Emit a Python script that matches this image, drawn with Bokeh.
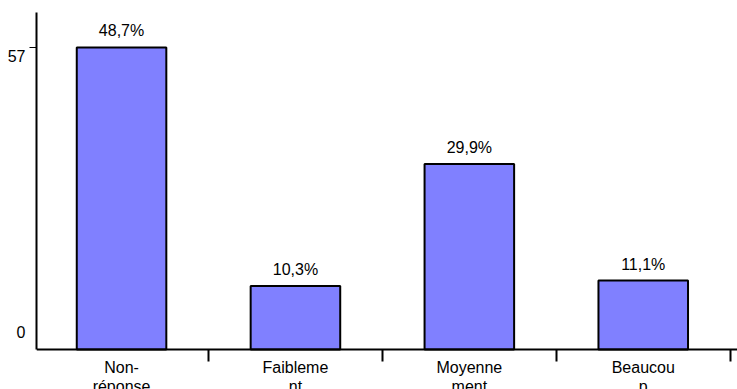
from bokeh.plotting import figure
from bokeh.models import Range1d, FixedTicker, ColumnDataSource
from bokeh.embed import file_html
from bokeh.resources import INLINE

# ---- data ----
categories = ["Non-réponse", "Faiblement", "Moyennement", "Beaucoup"]
tick_labels = ["Non-\nréponse", "Faibleme\nnt", "Moyenne\nment", "Beaucou\np"]
counts = [57, 12, 35, 13]
pct_labels = ["48,7%", "10,3%", "29,9%", "11,1%"]
y_ticks = [0, 57]

FONT = "Liberation Sans"
FS = "16px"

# ---- layout / style ----
Y_TOP = 63.6
Y_BOTTOM = -7.55
PX_PER_UNIT = 377 / (Y_TOP - Y_BOTTOM)
y_label_shift_px = [17, -9]   # reference draws the y labels shifted from their ticks

n = len(categories)
centers = [i + 0.5 for i in range(n)]
boundaries = [i + 1 for i in range(n)]
src = ColumnDataSource(dict(x=centers, top=counts, pct=pct_labels, cat=categories))

p = figure(width=737, height=389, output_backend="svg", toolbar_location=None,
           x_range=Range1d(0.011, 4.042), y_range=Range1d(Y_BOTTOM, Y_TOP),
           min_border_left=36, min_border_right=0, min_border_top=12, min_border_bottom=0)
p.outline_line_color = None
p.xgrid.visible = False
p.ygrid.visible = False
p.background_fill_color = "white"
p.border_fill_color = "white"

p.vbar(x="x", top="top", bottom=0, width=0.515, source=src,
       fill_color="#8080FF", line_color="black", line_width=2)

p.text(x="x", y="top", text="pct", source=src, text_align="center",
       text_baseline="bottom", y_offset=-8, text_font_size=FS,
       text_font={"value": FONT}, text_color="black")

# x axis at y = 0: labels at category centres, tick marks at category boundaries
xa = p.xaxis[0]
xa.fixed_location = 0
xa.ticker = FixedTicker(ticks=centers, minor_ticks=boundaries)
xa.major_label_overrides = {c: t for c, t in zip(centers, tick_labels)}
xa.major_tick_out = 0
xa.major_tick_in = 0
xa.minor_tick_out = 12
xa.minor_tick_in = 0
xa.minor_tick_line_width = 2
xa.minor_tick_line_color = "black"
xa.axis_line_width = 2
xa.major_label_text_font = FONT
xa.major_label_text_font_size = FS
xa.major_label_text_color = "black"
xa.major_label_text_line_height = 1.1
xa.major_label_standoff = -2

# y axis
label_pos = [v + s / PX_PER_UNIT for v, s in zip(y_ticks, y_label_shift_px)]
ya = p.yaxis[0]
ya.bounds = (0, Y_TOP)
ya.ticker = FixedTicker(ticks=label_pos, minor_ticks=[y_ticks[1]])
ya.major_label_overrides = {pos: str(v) for pos, v in zip(label_pos, y_ticks)}
ya.major_tick_out = 0
ya.major_tick_in = 0
ya.minor_tick_out = 7
ya.minor_tick_in = 0
ya.minor_tick_line_width = 1
ya.minor_tick_line_color = "black"
ya.axis_line_width = 2
ya.major_label_text_font = FONT
ya.major_label_text_font_size = FS
ya.major_label_text_color = "black"
ya.major_label_standoff = 4

open("out.html", "w").write(file_html(p, INLINE))
